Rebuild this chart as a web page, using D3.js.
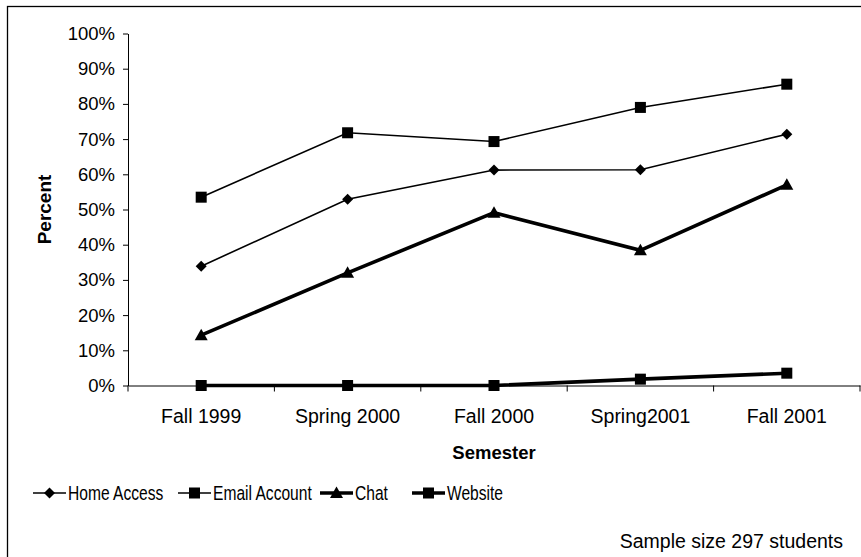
<!DOCTYPE html>
<html><head><meta charset="utf-8">
<script src="https://cdn.jsdelivr.net/npm/d3@7"></script>
<style>
html,body{margin:0;padding:0;background:#fff;}
svg{display:block;font-family:"Liberation Sans",Arial,sans-serif;}
</style></head>
<body>
<svg id="chart" width="861" height="557"></svg>
<script>
const semesters = ["Fall 1999","Spring 2000","Fall 2000","Spring2001","Fall 2001"];
const homeAccess = [33.9, 52.9, 61.2, 61.3, 71.4];
const emailAccount = [53.5, 71.8, 69.3, 79.0, 85.6];
const chat = [14.3, 32.0, 49.1, 38.4, 57.0];
const website = [0, 0, 0, 1.8, 3.5];
const yTicks = [0,10,20,30,40,50,60,70,80,90,100];
const seriesNames = ["Home Access","Email Account","Chat","Website"];

(function(){
const series = [
  {name: seriesNames[0], values: homeAccess, marker: "diamond", width: 1.6},
  {name: seriesNames[1], values: emailAccount, marker: "square", width: 1.6},
  {name: seriesNames[2], values: chat, marker: "triangle", width: 3.6},
  {name: seriesNames[3], values: website, marker: "square", width: 3.6}
];

const svg = d3.select("#chart");
svg.append("rect").attr("x",7.5).attr("y",6.5).attr("width",870).attr("height",570)
  .attr("fill","none").attr("stroke","#000").attr("stroke-width",1.3);

const pLeft = 128, pRight = 860, pTop = 33.5, pBottom = 385.5;
const x = d3.scaleBand().domain(semesters).range([pLeft, pRight]).paddingInner(0).paddingOuter(0);
const y = d3.scaleLinear().domain([0,100]).range([pBottom, pTop]);

const yAxis = d3.axisLeft(y).tickValues(yTicks).tickFormat(d => d + "%").tickSize(5).tickSizeOuter(0);
const gy = svg.append("g").attr("transform",`translate(${pLeft},0)`).call(yAxis);
gy.selectAll("text").attr("font-size",18.5).attr("fill","#000").attr("x",-13);
gy.selectAll("line").attr("stroke","#000");
gy.select(".domain").attr("stroke","#000");

const xAxis = d3.axisBottom(x).tickSize(0).tickSizeOuter(0);
const gx = svg.append("g").attr("transform",`translate(0,${pBottom})`).call(xAxis);
gx.selectAll("text").attr("font-size",19.5).attr("fill","#000").attr("dy","0").attr("y",37);
gx.select(".domain").attr("stroke","#000");
const bounds = semesters.map(s => x(s)).concat([x(semesters[semesters.length-1]) + x.bandwidth()]);
gx.selectAll(".bt").data(bounds).enter().append("line")
  .attr("x1",d=>d).attr("x2",d=>d).attr("y1",0).attr("y2",6).attr("stroke","#000");

const cx = s => x(s) + x.bandwidth()/2;

function drawMarker(g, type, px, py){
  if(type==="square"){
    g.append("rect").attr("x",px-5.5).attr("y",py-5.5).attr("width",11).attr("height",11).attr("fill","#000");
  } else if(type==="diamond"){
    g.append("path").attr("d",`M${px},${py-5.5}L${px+5.5},${py}L${px},${py+5.5}L${px-5.5},${py}Z`).attr("fill","#000");
  } else if(type==="triangle"){
    g.append("path").attr("d",`M${px},${py-6.5}L${px+6.5},${py+5}L${px-6.5},${py+5}Z`).attr("fill","#000");
  }
}

const line = d3.line().x((d,i)=>cx(semesters[i])).y(d=>y(d));
series.forEach(s=>{
  const g = svg.append("g");
  g.append("path").attr("d", line(s.values)).attr("fill","none").attr("stroke","#000")
    .attr("stroke-width", s.width).attr("stroke-linejoin","miter");
  s.values.forEach((v,i)=>drawMarker(g, s.marker, cx(semesters[i]), y(v)));
});

svg.append("text").attr("transform",`translate(51,${(pTop+pBottom)/2}) rotate(-90)`)
  .attr("text-anchor","middle").attr("font-weight","bold").attr("font-size",19).text("Percent");
svg.append("text").attr("x",(pLeft+pRight)/2).attr("y",459).attr("text-anchor","middle")
  .attr("font-weight","bold").attr("font-size",18.5).text("Semester");

const legendX = [33, 178, 320, 412];
series.forEach((s,i)=>{
  const g = svg.append("g");
  const lx = legendX[i], ly = 493;
  g.append("line").attr("x1",lx).attr("x2",lx+33).attr("y1",ly).attr("y2",ly)
    .attr("stroke","#000").attr("stroke-width",s.width);
  drawMarker(g, s.marker, lx+16.5, ly);
  g.append("text").attr("transform",`translate(${lx+35},${ly+7}) scale(0.8,1)`)
    .attr("font-size",19.5).text(s.name);
});

svg.append("text").attr("x",843).attr("y",548).attr("text-anchor","end").attr("font-size",19.5)
  .text("Sample size 297 students");
})();
</script>
</body></html>
